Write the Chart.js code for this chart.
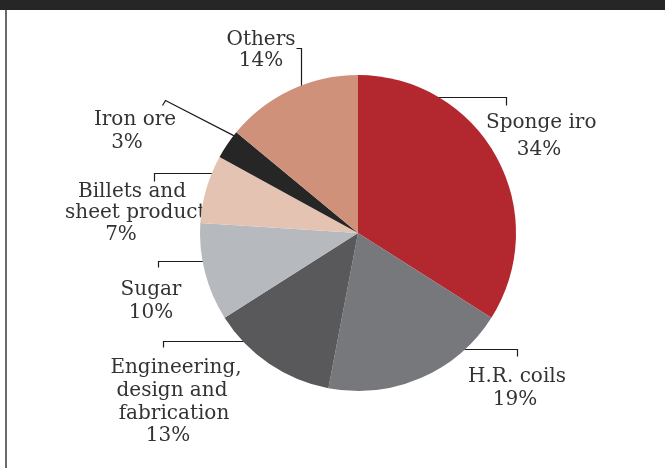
<!DOCTYPE html>
<html>
<head>
<meta charset="utf-8">
<title>Exports by product</title>
<script src="https://cdn.jsdelivr.net/npm/chart.js@4"></script>
<style>
  html, body { margin: 0; padding: 0; background: #fff; }
  #wrap { position: relative; width: 665px; height: 468px; overflow: hidden; background: #fff; }
  #topbar { position: absolute; left: 0; top: 0; width: 665px; height: 10px; background: #262626; }
  #rule { position: absolute; left: 5px; top: 10px; width: 2px; height: 458px; background: #6a6a6a; }
  canvas { position: absolute; left: 0; top: 0; }
</style>
</head>
<body>
<div id="wrap">
  <div id="topbar"></div>
  <div id="rule"></div>
  <canvas id="exportsChart" width="665" height="468"></canvas>
</div>
<script>
// slices run clockwise from 12 o'clock
const categories = [
  "Sponge iron",
  "H.R. coils",
  "Engineering,\ndesign and\nfabrication",
  "Sugar",
  "Billets and\nsheet products",
  "Iron ore",
  "Others"
];
const shares = [34, 19, 13, 10, 7, 3, 14];
const sliceColors = ["#b3272f", "#77787b", "#59595b", "#b6b9bd", "#e4c3b2", "#262626", "#d0917b"];

// callout placement: [x, baseline, align] per text line, the leader's elbow,
// and the direction the leader then runs until it meets the rim
const callouts = [
  { lines: [[486, 128, "left"], [539, 155]], leader: [[506, 105], [506, 97]], toward: [-1, 0] },
  { lines: [[517, 382], [515, 405]], leader: [[517, 356], [517, 349]], toward: [-1, 0] },
  { lines: [[176, 373], [172, 396], [174, 419], [168, 441]], leader: [[163, 347], [163, 341]], toward: [1, 0] },
  { lines: [[151, 295], [151, 318]], leader: [[158, 267], [158, 261]], toward: [1, 0] },
  { lines: [[132, 197], [65, 218, "left"], [121, 240]], leader: [[154, 181], [154, 173]], toward: [1, 0] },
  { lines: [[135, 125], [127, 148]], leader: [[162, 105], [165, 100]], toward: [68, 35] },
  { lines: [[261, 45], [261, 66]], leader: [[296, 48], [301, 48]], toward: [0, 1] }
];

// labels go under the pie so the slices sit on top of them
const calloutPlugin = {
  id: "callouts",
  beforeDatasetsDraw(chart) {
    const arc = chart.getDatasetMeta(0).data[0];
    const cx = arc.x, cy = arc.y, rim = arc.outerRadius - 1;
    const ctx = chart.ctx;
    ctx.save();
    ctx.beginPath();
    ctx.rect(0, 0, 597, chart.height);
    ctx.clip();
    ctx.font = '20px "DejaVu Serif"';
    ctx.fillStyle = "#333333";
    ctx.strokeStyle = "#1c1c1c";
    ctx.lineWidth = 1.2;
    ctx.textBaseline = "alphabetic";

    callouts.forEach((c, i) => {
      const text = categories[i].split("\n").concat(shares[i] + "%");
      text.forEach((t, j) => {
        const [x, y, align] = c.lines[j];
        ctx.textAlign = align || "center";
        ctx.fillText(t, x, y);
      });

      const pts = c.leader;
      const [px, py] = pts[pts.length - 1];
      let [dx, dy] = c.toward;
      const len = Math.hypot(dx, dy);
      dx /= len; dy /= len;
      const ox = px - cx, oy = py - cy;
      const b = ox * dx + oy * dy;
      const disc = b * b - (ox * ox + oy * oy - rim * rim);
      const t = disc > 0 ? -b - Math.sqrt(disc) : 0;

      ctx.beginPath();
      ctx.moveTo(pts[0][0] + 0.5, pts[0][1] + 0.5);
      for (let k = 1; k < pts.length; k++) ctx.lineTo(pts[k][0] + 0.5, pts[k][1] + 0.5);
      ctx.lineTo(px + dx * t + 0.5, py + dy * t + 0.5);
      ctx.stroke();
    });
    ctx.restore();
  }
};

new Chart(document.getElementById("exportsChart"), {
  type: "pie",
  data: {
    labels: categories,
    datasets: [{
      data: shares,
      backgroundColor: sliceColors,
      borderWidth: 0
    }]
  },
  options: {
    responsive: false,
    animation: false,
    layout: { padding: { left: 200, right: 149, top: 75, bottom: 77 } },
    plugins: {
      legend: { display: false },
      tooltip: { enabled: false }
    }
  },
  plugins: [calloutPlugin]
});
</script>
</body>
</html>
